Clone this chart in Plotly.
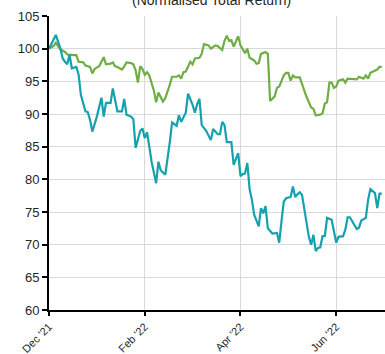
import plotly.graph_objects as go

# trading-day index (0 = 1 Dec 2021) and normalised total return values
teal_x = [0, 3, 5, 6, 7, 8, 9, 10, 12, 13, 14, 16, 17, 18, 19, 21, 23, 24, 25, 27, 28, 29, 30, 32, 33, 34, 36, 37, 38, 40, 41, 42, 43, 44, 45, 47, 48, 49, 51, 53, 54, 56, 57, 58, 59, 60, 61, 63, 64, 65, 66, 67, 69, 71, 72, 74, 75, 76, 77, 78, 80, 81, 83, 84, 85, 86, 87, 88, 89, 90, 92, 93, 94, 95, 96, 98, 100, 101, 102, 103, 104, 106, 107, 108, 109, 110, 111, 112, 113, 114, 115, 116, 117, 118, 119, 120, 121, 122, 124, 125, 126, 127, 129, 130, 131, 132, 135, 136, 137, 139, 140, 141, 142, 143, 144, 145, 146]
teal_y = [100.0, 102.1, 100.0, 98.5, 98.0, 97.6, 99.1, 97.0, 97.2, 96.0, 92.9, 90.4, 90.3, 89.1, 87.3, 89.6, 92.5, 89.6, 91.7, 91.7, 93.9, 92.1, 90.4, 90.4, 92.3, 89.9, 89.6, 89.2, 84.8, 87.4, 87.8, 86.3, 87.2, 85.0, 82.7, 79.4, 82.7, 81.4, 80.7, 85.7, 88.7, 88.2, 89.8, 88.8, 89.5, 90.2, 93.1, 91.4, 90.2, 91.5, 92.3, 88.3, 87.4, 86.0, 87.7, 86.9, 86.9, 88.8, 88.3, 85.7, 85.7, 82.2, 84.0, 80.5, 80.8, 80.9, 82.5, 78.5, 76.9, 74.6, 72.8, 75.6, 74.8, 75.9, 72.5, 71.7, 71.8, 70.3, 73.6, 76.6, 77.1, 77.3, 78.9, 77.3, 77.7, 78.0, 77.6, 75.3, 73.0, 71.2, 70.0, 71.5, 69.0, 69.5, 69.6, 71.3, 71.3, 74.1, 73.8, 71.8, 70.3, 71.2, 71.3, 72.3, 74.2, 74.2, 72.4, 72.6, 73.7, 74.1, 76.9, 78.5, 78.2, 77.9, 75.6, 77.8, 77.8]

green_x = [0, 2, 3, 5, 7, 8, 11, 12, 13, 15, 16, 18, 19, 20, 22, 23, 24, 25, 27, 28, 29, 30, 32, 33, 34, 36, 37, 38, 39, 40, 41, 42, 43, 44, 45, 46, 47, 48, 50, 51, 53, 54, 56, 57, 58, 59, 60, 61, 62, 63, 64, 66, 67, 68, 70, 71, 73, 74, 76, 77, 78, 79, 80, 81, 83, 84, 85, 86, 87, 88, 90, 91, 92, 93, 95, 96, 97, 99, 100, 101, 103, 104, 105, 106, 107, 108, 110, 112, 113, 115, 116, 117, 119, 120, 121, 122, 123, 124, 125, 126, 127, 129, 130, 131, 133, 135, 136, 138, 139, 140, 141, 143, 144, 145, 146]
green_y = [100.0, 100.4, 100.9, 99.9, 99.5, 99.1, 99.0, 99.0, 98.0, 97.9, 97.4, 97.2, 96.2, 96.9, 97.3, 97.9, 98.7, 97.6, 97.7, 97.9, 97.3, 97.2, 96.8, 97.3, 97.9, 97.8, 97.6, 96.7, 94.8, 97.3, 96.9, 96.0, 96.4, 95.9, 94.9, 93.6, 91.8, 93.3, 91.9, 92.4, 94.5, 95.7, 95.7, 95.9, 95.4, 96.4, 96.5, 97.4, 98.0, 97.6, 98.5, 98.6, 99.2, 100.7, 100.5, 100.0, 100.5, 100.4, 99.8, 101.2, 102.0, 101.2, 101.3, 100.3, 101.9, 100.5, 99.8, 99.3, 100.0, 98.6, 98.2, 97.7, 97.8, 99.2, 99.5, 99.2, 92.0, 92.7, 94.0, 94.2, 95.9, 96.3, 96.3, 95.1, 95.9, 95.6, 95.6, 93.6, 92.6, 91.0, 90.8, 89.8, 89.9, 90.1, 91.6, 91.8, 94.8, 94.8, 94.0, 94.2, 95.1, 95.3, 94.8, 95.4, 95.4, 95.3, 95.7, 95.4, 95.9, 95.4, 96.3, 96.7, 96.8, 97.2, 97.2]

tick_idx = [0, 42, 84, 126]
tick_text = ["Dec '21", "Feb '22", "Apr '22", "Jun '22"]
title_text = "(Normalised Total Return)"

fig = go.Figure()
fig.add_trace(go.Scatter(x=green_x, y=green_y, mode="lines",
                         line=dict(color="#6FAE45", width=2.2), showlegend=False))
fig.add_trace(go.Scatter(x=teal_x, y=teal_y, mode="lines",
                         line=dict(color="#15A1AD", width=2.2), showlegend=False))

fig.update_layout(
    width=385, height=354,
    margin=dict(l=49, r=0, t=15.5, b=43.5, autoexpand=False),
    paper_bgcolor="white", plot_bgcolor="white",
    font=dict(family="Liberation Sans, Arial, sans-serif", color="#262626"),
    xaxis=dict(range=[0, 147.4], tickmode="array", tickvals=tick_idx, ticktext=tick_text,
               tickangle=-45, tickfont=dict(size=11), automargin=False,
               showgrid=True, gridcolor="#D9D9D9", gridwidth=1,
               showline=True, linecolor="black", linewidth=2,
               ticks="outside", ticklen=4, tickwidth=2, tickcolor="black",
               zeroline=False, fixedrange=True),
    yaxis=dict(range=[60, 105], dtick=5, tickfont=dict(size=13), automargin=False,
               showgrid=True, gridcolor="#D9D9D9", gridwidth=1,
               showline=True, linecolor="black", linewidth=2,
               ticks="outside", ticklen=5, tickwidth=2, tickcolor="black",
               zeroline=False, fixedrange=True),
    annotations=[dict(text=title_text, xref="paper", yref="paper",
                      x=(211 - 49) / 336, y=1.0, yshift=6, xanchor="center", yanchor="bottom",
                      showarrow=False, font=dict(size=14, color="#262626"))],
)

fig.write_html("out.html")
